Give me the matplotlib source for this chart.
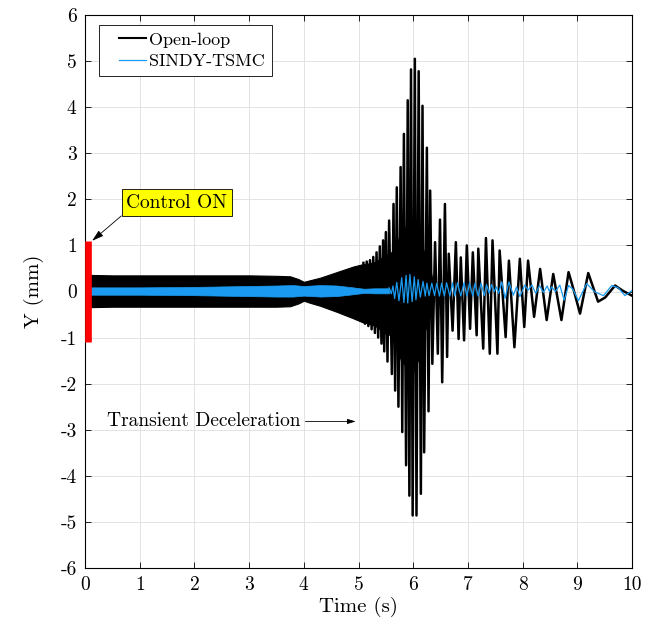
import numpy as np
import matplotlib.pyplot as plt
from matplotlib.lines import Line2D
from matplotlib.legend_handler import HandlerLine2D

plt.rcParams['font.family'] = 'cmr10'
plt.rcParams['mathtext.fontset'] = 'cm'
plt.rcParams['axes.unicode_minus'] = False

# Open-loop: dense band (envelope)
ol_band_t = [0.1, 0.5, 1.0, 2.0, 3.0, 3.5, 3.75, 3.9, 4.0, 4.1, 4.3, 4.6, 4.9, 5.1]
ol_band_hi = [0.36, 0.35, 0.35, 0.35, 0.35, 0.34, 0.33, 0.27, 0.21, 0.24, 0.30, 0.42, 0.54, 0.60]
ol_band_lo = [-0.34, -0.33, -0.33, -0.33, -0.33, -0.33, -0.32, -0.26, -0.20, -0.24, -0.31, -0.44, -0.58, -0.68]

# Open-loop: solid core of the burst (where the cycles merge into black)
ol_core_t = [5.08, 5.3, 5.5, 5.6, 5.7, 5.78, 5.85, 6.0, 6.1, 6.15, 6.2, 6.3, 6.36]
ol_core_hi = [0.58, 0.64, 0.78, 0.85, 1.05, 1.30, 1.40, 1.55, 1.30, 1.05, 0.85, 0.55, 0.20]
ol_core_lo = [-0.66, -0.74, -0.92, -0.95, -1.25, -1.50, -1.60, -1.75, -1.45, -1.15, -0.90, -0.55, -0.20]

# Open-loop: resolved peaks / troughs
ol_t = [5.09, 5.12, 5.15, 5.18, 5.21, 5.24, 5.27, 5.30, 5.33, 5.36, 5.39, 5.42,
        5.45, 5.47, 5.50, 5.53, 5.56, 5.61, 5.64, 5.67, 5.70, 5.73, 5.77, 5.80,
        5.83, 5.87, 5.90, 5.93, 5.96, 5.99, 6.03, 6.06, 6.10, 6.14, 6.17, 6.20,
        6.25, 6.28, 6.31, 6.35, 6.40, 6.45, 6.49, 6.53, 6.58, 6.62, 6.65, 6.72,
        6.78, 6.83, 6.87, 6.93, 6.98, 7.04, 7.09, 7.16, 7.19, 7.28, 7.33, 7.40,
        7.45, 7.54, 7.58, 7.69, 7.75, 7.85, 7.95, 8.03, 8.10, 8.21, 8.32, 8.44,
        8.56, 8.71, 8.84, 8.93, 9.05, 9.20, 9.38, 9.51, 9.69, 9.84, 10.0]
ol_y = [0.62, -0.70, 0.65, -0.75, 0.68, -0.82, 0.75, -0.90, 0.85, -1.00, 0.98, -1.13,
        1.11, -1.30, 1.29, -1.52, 1.54, -1.79, 1.90, -2.15, 2.26, -2.50, 2.70, -3.05,
        3.42, -3.77, 4.15, -4.43, 4.82, -4.86, 5.05, -4.86, 4.78, -4.39, 4.03, -3.49,
        3.12, -2.60, 2.19, -1.57, 1.07, -1.35, 1.56, -1.97, 1.90, -1.42, 0.82, -0.85,
        1.07, -1.03, 0.74, -1.06, 1.00, -0.81, 0.85, -0.95, 0.93, -1.24, 1.16, -1.35,
        1.11, -1.35, 0.89, -0.99, 0.67, -1.21, 0.71, -0.77, 0.67, -0.55, 0.49, -0.62,
        0.38, -0.62, 0.42, 0.05, -0.48, 0.40, -0.22, -0.13, 0.13, 0.01, -0.09]

# SINDY-TSMC: dense band
sc_band_t = [0.1, 1.0, 2.0, 2.5, 3.0, 3.5, 3.8, 4.0, 4.3, 4.6, 4.9, 5.1, 5.3, 5.56]
sc_band_hi = [0.09, 0.09, 0.10, 0.11, 0.12, 0.13, 0.14, 0.12, 0.14, 0.13, 0.09, 0.06, 0.07, 0.07]
sc_band_lo = [-0.07, -0.07, -0.08, -0.09, -0.10, -0.11, -0.11, -0.09, -0.11, -0.10, -0.06, -0.03, -0.04, -0.04]

# SINDY-TSMC: resolved peaks / troughs
sc_t = [5.56, 5.60, 5.63, 5.66, 5.70, 5.74, 5.79, 5.83, 5.87, 5.90, 5.94, 5.98,
        6.02, 6.05, 6.09, 6.13, 6.18, 6.22, 6.25, 6.29, 6.34, 6.39, 6.43, 6.48,
        6.52, 6.57, 6.61, 6.67, 6.72, 6.76, 6.81, 6.87, 6.93, 6.98, 7.03, 7.09,
        7.13, 7.19, 7.24, 7.30, 7.34, 7.39, 7.43, 7.48, 7.52, 7.56, 7.62, 7.68,
        7.75, 7.83, 7.89, 7.95, 8.04, 8.10, 8.17, 8.24, 8.31, 8.38, 8.45, 8.49,
        8.53, 8.60, 8.68, 8.76, 8.84, 8.92, 9.02, 9.17, 9.32, 9.48, 9.63, 9.75,
        9.87, 10.0]
sc_y = [0.08, -0.05, 0.12, -0.15, 0.20, -0.20, 0.30, -0.24, 0.35, -0.25, 0.37, -0.22,
        0.32, -0.18, 0.26, -0.12, 0.22, -0.10, 0.18, -0.09, 0.18, -0.09, 0.18, -0.10,
        0.18, -0.10, 0.19, -0.10, 0.19, -0.10, 0.19, -0.10, 0.19, -0.10, 0.18, -0.10,
        0.18, -0.10, 0.18, -0.09, 0.15, -0.04, 0.15, 0.00, 0.10, -0.04, 0.21, -0.15,
        0.21, -0.08, 0.10, -0.11, 0.14, 0.03, 0.14, -0.04, 0.13, -0.02, 0.12, 0.00,
        0.10, 0.00, 0.14, -0.19, 0.13, 0.05, -0.20, 0.17, -0.01, -0.09, 0.13, 0.08,
        -0.09, 0.02]

black = '#000000'
blue = '#1a9af0'

fig = plt.figure(figsize=(6.58, 6.21), dpi=100)
ax = fig.add_axes([85 / 658, 53 / 621, 547 / 658, 553 / 621])

ax.fill_between(ol_band_t, ol_band_lo, ol_band_hi, color=black, lw=0.8, zorder=2)
ax.fill_between(ol_core_t, ol_core_lo, ol_core_hi, color=black, lw=0.8, zorder=2)
ax.plot(ol_t, ol_y, color=black, lw=1.8, zorder=2)
ax.fill_between(sc_band_t, sc_band_lo, sc_band_hi, color=blue, lw=0.5, zorder=3)
ax.plot(sc_t, sc_y, color=blue, lw=0.9, zorder=3)

# proxies for the legend
h1 = Line2D([], [], color=black, lw=1.5)
h2 = Line2D([], [], color=blue, lw=0.9)

# control switch marker
ax.plot([0.06, 0.06], [-1.1, 1.09], color='#ff0000', lw=4.8, solid_capstyle='butt',
        zorder=5, clip_on=False)

ax.annotate('Control ON', xy=(0.13, 1.1), xytext=(1.68, 1.93), fontsize=14,
            ha='center', va='center',
            bbox=dict(boxstyle='square,pad=0.25', fc='#ffff00', ec='black', lw=0.6),
            arrowprops=dict(arrowstyle='-|>,head_length=0.5,head_width=0.15',
                            color='black', lw=0.6, relpos=(0, 0),
                            shrinkA=0, shrinkB=0),
            zorder=6)

ax.text(0.40, -2.82, 'Transient Deceleration', fontsize=14, ha='left', va='center')
ax.annotate('', xy=(4.95, -2.82), xytext=(4.03, -2.82),
            arrowprops=dict(arrowstyle='-|>,head_length=0.5,head_width=0.15',
                            color='black', lw=0.6, shrinkA=0, shrinkB=0))

ax.set_xlim(0, 10)
ax.set_ylim(-6, 6)
ax.set_xticks(range(0, 11))
ax.set_yticks(range(-6, 7))
ax.tick_params(direction='in', top=True, right=True, length=4, width=0.6,
               labelsize=14, pad=6)
ax.grid(True, color='#dedede', lw=0.6)
ax.set_axisbelow(True)
for s in ax.spines.values():
    s.set_linewidth(0.8)

ax.set_xlabel('Time (s)', fontsize=15, labelpad=2)
ax.set_ylabel('Y (mm)', fontsize=15, labelpad=12)

leg = ax.legend([h1, h2], ['Open-loop', 'SINDY-TSMC'], loc='upper left',
                bbox_to_anchor=(0.0256, 0.982), borderaxespad=0, fontsize=13,
                fancybox=False, framealpha=1, edgecolor='black',
                handlelength=2.2, handletextpad=0.15, borderpad=0.4,
                labelspacing=0.3,
                handler_map={Line2D: HandlerLine2D(xpad=0.7)})
leg.get_frame().set_linewidth(0.6)

fig.savefig('out.png', dpi=100)
